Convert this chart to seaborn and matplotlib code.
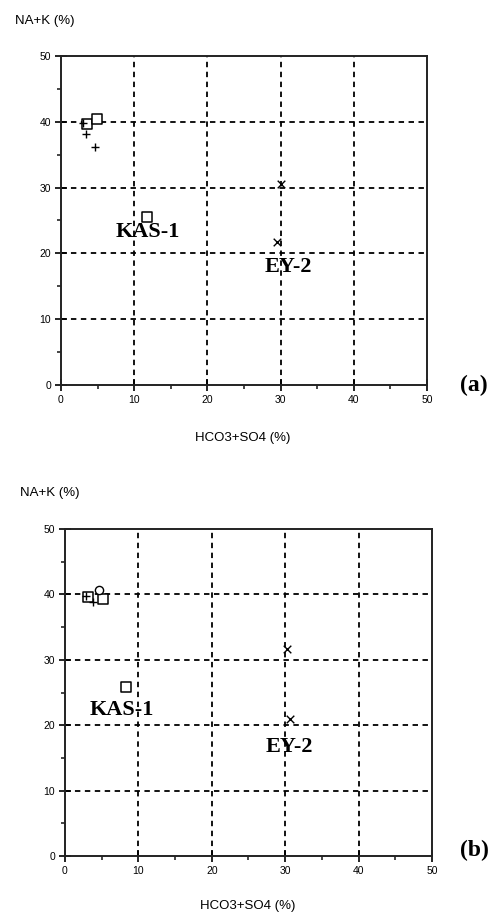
import numpy as np
import pandas as pd
import seaborn as sns
import matplotlib.pyplot as plt
from matplotlib.ticker import MultipleLocator

# panel (a) samples
a_sq_x = [3.5, 4.9, 11.7]
a_sq_y = [39.7, 40.4, 25.6]
a_plus_x = [3.0, 3.4, 4.6]
a_plus_y = [39.8, 38.1, 36.2]
a_x_x = [30.1, 29.5]
a_x_y = [30.6, 21.7]

# panel (b) samples
b_sq_x = [3.1, 5.2, 8.3]
b_sq_y = [39.6, 39.3, 25.9]
b_plus_x = [2.8, 3.8]
b_plus_y = [39.7, 38.9]
b_o_x = [4.6]
b_o_y = [40.7]
b_x_x = [30.3, 30.7]
b_x_y = [31.6, 21.0]

ticks = [0, 10, 20, 30, 40, 50]

sns.set_style("ticks")
plt.rcParams['font.family'] = ['Liberation Sans', 'DejaVu Sans']
plt.rcParams['text.color'] = 'black'


def draw_panel(ax, sq, plus, cross, circ=None):
    ax.set_xlim(0, 50)
    ax.set_ylim(0, 50)
    for v in [10, 20, 30, 40]:
        ax.axvline(v, color="black", lw=1.3, ls=(0, (3, 2.5)), zorder=1)
        ax.axhline(v, color="black", lw=1.3, ls=(0, (3, 2.5)), zorder=1)

    df = pd.DataFrame({"x": sq[0], "y": sq[1]})
    sns.scatterplot(data=df, x="x", y="y", ax=ax, marker="s", s=45,
                    facecolors="white", edgecolor="black", linewidth=1.1, zorder=3)
    df = pd.DataFrame({"x": plus[0], "y": plus[1]})
    sns.scatterplot(data=df, x="x", y="y", ax=ax, marker="+", s=40,
                    color="black", linewidth=1.0, zorder=4)
    df = pd.DataFrame({"x": cross[0], "y": cross[1]})
    sns.scatterplot(data=df, x="x", y="y", ax=ax, marker="x", s=30,
                    color="black", linewidth=1.0, zorder=4)
    if circ is not None:
        df = pd.DataFrame({"x": circ[0], "y": circ[1]})
        sns.scatterplot(data=df, x="x", y="y", ax=ax, marker="o", s=35,
                        facecolors="white", edgecolor="black", linewidth=1.0, zorder=3)

    ax.set_xticks(ticks)
    ax.set_yticks(ticks)
    ax.xaxis.set_minor_locator(MultipleLocator(5))
    ax.yaxis.set_minor_locator(MultipleLocator(5))
    ax.tick_params(which="major", direction="inout", length=8, width=1.2,
                   labelsize=7.5, pad=3, colors="black")
    ax.tick_params(which="minor", direction="out", length=3, width=1.2)
    for sp in ax.spines.values():
        sp.set_linewidth(1.4)
        sp.set_color("#222222")
    ax.set_xlabel("")
    ax.set_ylabel("")


fig = plt.figure(figsize=(4.96, 9.19), dpi=100)
W, H = 496, 919

ax1 = fig.add_axes([61 / W, 1 - 385 / H, 366 / W, 329 / H])
draw_panel(ax1, (a_sq_x, a_sq_y), (a_plus_x, a_plus_y), (a_x_x, a_x_y))
ax2 = fig.add_axes([65 / W, 1 - 856 / H, 367 / W, 327 / H])
draw_panel(ax2, (b_sq_x, b_sq_y), (b_plus_x, b_plus_y), (b_x_x, b_x_y), (b_o_x, b_o_y))

serif = dict(family=["Liberation Serif", "DejaVu Serif"], fontweight="bold",
             fontsize=16, color="black")
ax1.text(11.9, 23.2, "KAS-1", ha="center", va="center", **serif)
ax1.text(31.1, 17.9, "EY-2", ha="center", va="center", **serif)
ax2.text(7.7, 22.4, "KAS-1", ha="center", va="center", **serif)
ax2.text(30.6, 16.7, "EY-2", ha="center", va="center", **serif)

fig.text(474 / W, 1 - 385 / H, "(a)", ha="center", va="center", color="black",
         family=["Liberation Serif", "DejaVu Serif"], fontweight="bold", fontsize=17)
fig.text(474 / W, 1 - 850 / H, "(b)", ha="center", va="center", color="black",
         family=["Liberation Serif", "DejaVu Serif"], fontweight="bold", fontsize=17)

fig.text(15 / W, 1 - 21 / H, "NA+K (%)", ha="left", va="center", fontsize=9.5)
fig.text(20 / W, 1 - 493 / H, "NA+K (%)", ha="left", va="center", fontsize=9.5)
fig.text(243 / W, 1 - 438 / H, "HCO3+SO4 (%)", ha="center", va="center", fontsize=9.5)
fig.text(248 / W, 1 - 906 / H, "HCO3+SO4 (%)", ha="center", va="center", fontsize=9.5)

fig.savefig("out.png", dpi=100)
